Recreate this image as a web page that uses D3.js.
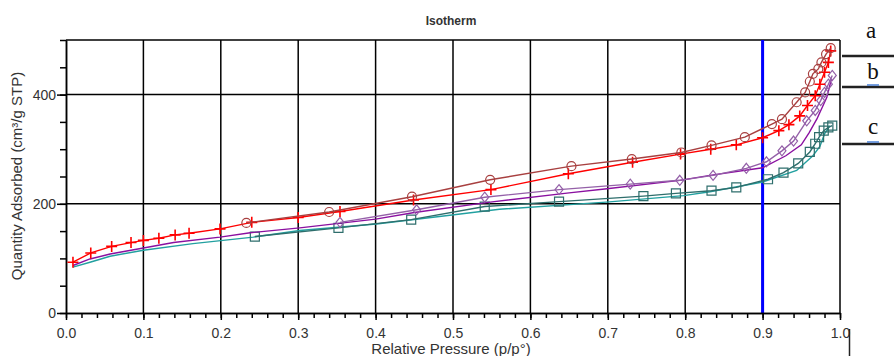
<!DOCTYPE html>
<html>
<head>
<meta charset="utf-8">
<script src="https://cdn.jsdelivr.net/npm/d3@7"></script>
<style>
body { margin: 0; background: #fff; }
text { font-family: "Liberation Sans", Arial, sans-serif; }
</style>
</head>
<body>
<div id="chart"></div>
<script>
// sample a - adsorption (red, plus) / desorption (brown, circles)
const aAdsP = [0.009, 0.032, 0.059, 0.084, 0.10, 0.12, 0.141, 0.159, 0.199, 0.24, 0.30, 0.354, 0.449, 0.549, 0.649, 0.732, 0.794, 0.833, 0.866, 0.90, 0.921, 0.934, 0.948, 0.958, 0.968, 0.974, 0.98, 0.985, 0.988]
const aAdsQ = [93, 110, 122, 129, 133, 137, 143, 146, 154, 166, 175, 186, 207, 226, 255, 276, 291, 300, 308, 321, 334, 345, 361, 380, 398, 419, 441, 459, 480]
const aDesP = [0.233, 0.34, 0.447, 0.548, 0.653, 0.731, 0.795, 0.834, 0.877, 0.912, 0.925, 0.944, 0.955, 0.961, 0.965, 0.972, 0.976, 0.982, 0.988]
const aDesQ = [165, 185, 213, 244, 269, 282, 294, 307, 322, 346, 355, 386, 404, 424, 438, 447, 459, 474, 485]

// sample b - purple
const bAdsP = [0.009, 0.031, 0.057, 0.10, 0.139, 0.199, 0.238, 0.302, 0.40, 0.45, 0.548, 0.65, 0.696, 0.793, 0.832, 0.90, 0.93, 0.95, 0.96, 0.97, 0.983, 0.989]
const bAdsQ = [87, 99, 108, 119, 129, 139, 147, 156, 172, 184, 203, 220, 227, 243, 252, 266, 288, 308, 330, 355, 395, 429]
const bDesP = [0.354, 0.453, 0.541, 0.637, 0.729, 0.793, 0.836, 0.879, 0.905, 0.925, 0.94, 0.957, 0.968, 0.975, 0.98, 0.985, 0.99]
const bDesQ = [166, 189, 212, 226, 236, 243, 252, 265, 277, 297, 315, 352, 371, 389, 404, 419, 435]

// sample c - teal
const cAdsP = [0.009, 0.031, 0.057, 0.10, 0.164, 0.242, 0.302, 0.401, 0.496, 0.56, 0.698, 0.798, 0.832, 0.90, 0.944, 0.965, 0.974, 0.98, 0.987]
const cAdsQ = [84, 93, 104, 115, 127, 139, 151, 163, 179, 190, 203, 215, 222, 240, 261, 288, 305, 328, 343]
const cDesP = [0.244, 0.352, 0.446, 0.541, 0.637, 0.746, 0.788, 0.834, 0.866, 0.907, 0.927, 0.946, 0.961, 0.968, 0.973, 0.979, 0.985, 0.99]
const cDesQ = [140, 156, 171, 195, 204, 214, 219, 224, 230, 245, 257, 274, 295, 310, 322, 334, 340, 343]

const xTicks = [0, 0.1, 0.2, 0.3, 0.4, 0.5, 0.6, 0.7, 0.8, 0.9, 1.0]
const yTicks = [0, 200, 400]
const sampleLabels = ["a", "b", "c"]

const width = 894;
const height = 356;
const margin = { top: 40, right: 54, left: 66, bottom: 43 };
const innerW = width - margin.left - margin.right
const innerH = height - margin.top - margin.bottom

const svg = d3.select("div#chart").append("svg")
    .attr("width", width)
    .attr("height", height)

const x = d3.scaleLinear().domain([0, 1]).range([0, innerW])
const y = d3.scaleLinear().domain([0, 500]).range([innerH, 0])

const plot = svg.append("g")
    .attr("transform", `translate(${margin.left}, ${margin.top})`)

// grid
plot.selectAll(".vgrid")
    .data(xTicks.slice(1))
    .enter().append("line")
    .attr("x1", d => x(d)).attr("x2", d => x(d))
    .attr("y1", 0).attr("y2", innerH)
    .attr("stroke", "#000").attr("stroke-width", 1.5)
plot.selectAll(".hgrid")
    .data([200, 400, 500])
    .enter().append("line")
    .attr("x1", 0).attr("x2", innerW)
    .attr("y1", d => y(d)).attr("y2", d => y(d))
    .attr("stroke", "#000").attr("stroke-width", 1.5)

// blue marker line at 0.9
plot.append("line")
    .attr("x1", x(0.9)).attr("x2", x(0.9))
    .attr("y1", 0).attr("y2", innerH)
    .attr("stroke", "#0000ff").attr("stroke-width", 3)

// axes
const xMinor = d3.range(0, 1.001, 0.02)
const yMinor = d3.range(0, 501, 50)

const xAxisMinor = d3.axisBottom(x).tickValues(xMinor).tickSize(5).tickSizeOuter(0).tickFormat("")
const xAxis = d3.axisBottom(x).tickValues(xTicks).tickSize(7).tickSizeOuter(0).tickFormat(d3.format(".1f"))
const yAxisMinor = d3.axisLeft(y).tickValues(yMinor).tickSize(6).tickSizeOuter(0).tickFormat("")
const yAxis = d3.axisLeft(y).tickValues(yTicks).tickSize(9).tickSizeOuter(0)

const styleAxis = g => {
    g.selectAll("path, line").attr("stroke", "#000").attr("stroke-width", 1.5)
    g.selectAll("text").attr("font-size", 14).attr("fill", "#333")
}

plot.append("g").attr("transform", `translate(0, ${innerH})`).call(xAxisMinor).call(styleAxis)
plot.append("g").attr("transform", `translate(0, ${innerH})`).call(xAxis).call(styleAxis)
    .selectAll("text").attr("dy", "1.05em")
plot.append("g").call(yAxisMinor).call(styleAxis)
plot.append("g").call(yAxis).call(styleAxis)
    .selectAll("text").attr("x", -10)

// series
const zip = (ps, qs) => ps.map((p, i) => ({ p: p, q: qs[i] }))
const line = d3.line().x(d => x(d.p)).y(d => y(d.q))

const series = [
    { data: zip(cAdsP, cAdsQ), color: "#22a0a0", marker: null },
    { data: zip(cDesP, cDesQ), color: "#2e6e6c", marker: "square" },
    { data: zip(bAdsP, bAdsQ), color: "#8a10a0", marker: null },
    { data: zip(bDesP, bDesQ), color: "#9460a8", marker: "diamond" },
    { data: zip(aAdsP, aAdsQ), color: "#ff0000", marker: "plus" },
    { data: zip(aDesP, aDesQ), color: "#a84040", marker: "circle" }
]

const markerPath = {
    plus: "M-5.5,0H5.5M0,-5.5V5.5",
    square: "M-4.5,-4.5H4.5V4.5H-4.5Z",
    diamond: "M0,-5L4,0L0,5L-4,0Z",
    circle: "M-4.5,0A4.5,4.5 0 1,0 4.5,0A4.5,4.5 0 1,0 -4.5,0Z"
}

series.forEach(s => {
    plot.append("path")
        .datum(s.data)
        .attr("fill", "none")
        .attr("stroke", s.color)
        .attr("stroke-width", 1.4)
        .attr("d", line)
    if (s.marker) {
        plot.selectAll(null)
            .data(s.data)
            .enter().append("path")
            .attr("transform", d => `translate(${x(d.p)}, ${y(d.q)})`)
            .attr("d", markerPath[s.marker])
            .attr("fill", "none")
            .attr("stroke", s.color)
            .attr("stroke-width", s.marker == "plus" ? 1.6 : 1.2)
    }
})

// titles
svg.append("text")
    .attr("x", 451).attr("y", 25)
    .attr("text-anchor", "middle")
    .attr("font-size", 12).attr("font-weight", "bold").attr("fill", "#333")
    .text("Isotherm")
svg.append("text")
    .attr("x", 451).attr("y", 354)
    .attr("text-anchor", "middle")
    .attr("font-size", 15).attr("fill", "#333")
    .text("Relative Pressure (p/p°)")
svg.append("text")
    .attr("transform", "translate(22, 176) rotate(-90)")
    .attr("text-anchor", "middle")
    .attr("font-size", 15).attr("fill", "#333")
    .text("Quantity Adsorbed (cm³/g STP)")

// sample labels on the right
const labelY = [38, 79, 134]
const ruleY = [56, 87, 144]
svg.selectAll(".ruleLine")
    .data(ruleY)
    .enter().append("line")
    .attr("x1", 842).attr("x2", 894)
    .attr("y1", d => d).attr("y2", d => d)
    .attr("stroke", "#222").attr("stroke-width", 2.5)
svg.selectAll(".sampleLabel")
    .data(sampleLabels)
    .enter().append("text")
    .attr("x", (d, i) => i == 0 ? 871 : 873)
    .attr("y", (d, i) => labelY[i])
    .attr("text-anchor", "middle")
    .style("font-family", "'Liberation Serif', 'DejaVu Serif', serif")
    .attr("font-size", 23).attr("fill", "#111")
    .text(d => d)
svg.selectAll(".underline")
    .data([85, 142])
    .enter().append("line")
    .attr("x1", 867).attr("x2", 879)
    .attr("y1", d => d).attr("y2", d => d)
    .attr("stroke", "#4a7fd4").attr("stroke-width", 1.5)

svg.append("line")
    .attr("x1", 849.5).attr("x2", 849.5)
    .attr("y1", 329).attr("y2", 356)
    .attr("stroke", "#222").attr("stroke-width", 1.5)
</script>
</body>
</html>
